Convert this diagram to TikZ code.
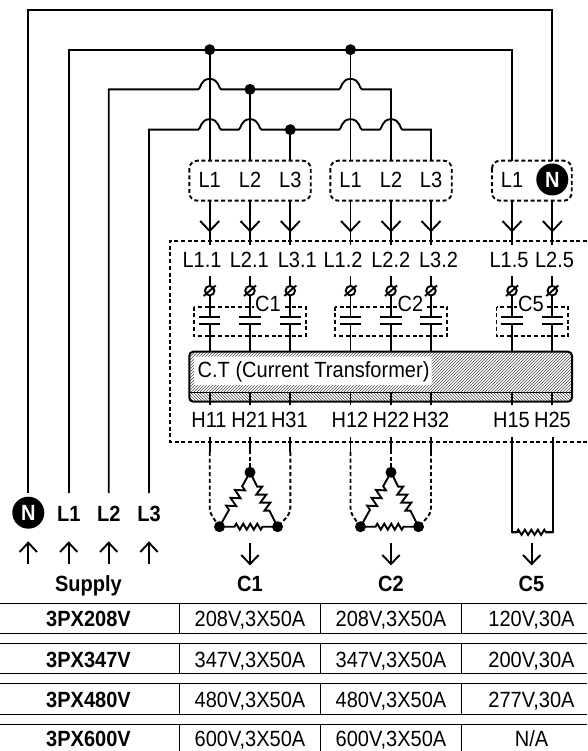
\documentclass[tikz,border=0pt]{standalone}
\usepackage{fontspec}
\setmainfont[FakeStretch=0.91]{Liberation Sans}
\usetikzlibrary{patterns,decorations.pathmorphing,calc}
\tikzset{
  wire/.style={line width=1.9pt,black},
  dashline/.style={line width=1.9pt,dash pattern=on 4pt off 2.7pt,black},
  dot/.style={circle,fill=black,inner sep=0pt,minimum size=11pt},
  ndot/.style={circle,fill=black,text=white,inner sep=0pt,minimum size=32pt,text height=15.7pt,text depth=0pt,font=\fontsize{22}{22}\selectfont\bfseries},
  lab/.style={inner sep=0pt,text height=15.7pt,text depth=0pt,font=\fontsize{22}{22}\selectfont},
  blab/.style={inner sep=0pt,text height=15.7pt,text depth=0pt,font=\fontsize{22}{22}\selectfont\bfseries},
  term/.style={circle,draw=black,line width=1.9pt,fill=white,inner sep=0pt,minimum size=9.5pt},
  vee/.style={line width=1.9pt},
  res/.style={line width=1.9pt,decorate},
  sidezig/.style={decoration={zigzag,segment length=9pt,amplitude=4.5pt,pre=lineto,pre length=16pt,post=lineto,post length=16pt}},
  flatzig/.style={decoration={zigzag,segment length=7pt,amplitude=3pt,pre=lineto,pre length=15pt,post=lineto,post length=15pt}},
  smallzig/.style={decoration={zigzag,segment length=6.5pt,amplitude=2.6pt,pre=lineto,pre length=5pt,post=lineto,post length=5pt}},
  tline/.style={line width=1.1pt},
}
\newcommand{\vdown}[2]{\draw[vee] (#1-9.5,#2-10) -- (#1,#2) -- (#1+9.5,#2-10);}
\begin{document}
\begin{tikzpicture}[x=1pt,y=-1pt]
\useasboundingbox (0,0) rectangle (587,751);
\def\hop#1#2{-- (#1-11.5,#2) .. controls (#1-9,#2) and (#1-9.5,#2-10.5) .. (#1,#2-10.5) .. controls (#1+9.5,#2-10.5) and (#1+9,#2) .. (#1+11.5,#2)}
% main wires
\draw[wire] (28.3,493) -- (28.3,9.7) -- (552.3,9.7) -- (552.3,161);
\draw[wire] (68.7,493) -- (68.7,49.7) -- (512,49.7) -- (512,161);
\draw[wire] (108.7,493) -- (108.7,89.4) \hop{209.7}{89.4} \hop{350.5}{89.4} -- (391,89.4) -- (391,161);
\draw[wire] (149,493) -- (149,129.7) \hop{209.7}{129.7} \hop{250}{129.7} -- (290.3,129.7) \hop{350.5}{129.7} \hop{391}{129.7} -- (431,129.7) -- (431,161);
\draw[wire] (209.7,49.7) -- (209.7,161);
\draw[wire] (250,89.4) -- (250,161);
\draw[wire] (290.3,129.7) -- (290.3,161);
\draw[wire] (350.5,49.7) -- (350.5,161);
% junctions
\node[dot] (j1) at (209.7,49.7) {};
\node[dot] (j2) at (250,89.4) {};
\node[dot] (j3) at (290.3,129.7) {};
\node[dot] (j4) at (350.5,49.7) {};
% dashed input groups
\draw[dashline,rounded corners=8pt] (189.3,160.7) rectangle (310.7,200.7);
\draw[dashline,rounded corners=8pt] (330.3,160.7) rectangle (451.7,200.7);
\draw[dashline,rounded corners=8pt] (492,160.7) rectangle (571.7,200.7);
\foreach \x/\t in {209.7/L1,250/L2,290.3/L3,350.5/L1,391/L2,431/L3,512/L1}{\node[lab] at (\x,179.5) {\t};}
\node[ndot] (n1) at (552.3,179.5) {N};
% links down
\foreach \x in {209.7,250,290.3,350.5,391,431,512,552.3}{
  \draw[wire] (\x,200.7) -- (\x,245);
  \vdown{\x}{231}
}
% outer dashed box
\draw[dashline] (587,240.7) -- (170,240.7) -- (170,442.3) -- (587,442.3);
% terminal labels
\foreach \x/\t in {202/L1.1,249.3/L2.1,297.3/L3.1,343/L1.2,390.8/L2.2,438.5/L3.2,509/L1.5,554.5/L2.5}{\node[lab] at (\x,260) {\t};}
% capacitor columns
\foreach \x in {209.7,250,290.3,350.5,391,431,512,552.3}{
  \draw[wire] (\x,276) -- (\x,317.3);
  \draw[wire] (\x-10.7,317.3) -- (\x+10.7,317.3);
  \draw[wire] (\x-10.7,324.3) -- (\x+10.7,324.3);
  \draw[wire] (\x,324.3) -- (\x,352);
  \node[term] at (\x,290.7) {};
  \draw[wire] (\x-6,296) -- (\x+6,285.5);
}
\draw[dashline] (194,306.7) rectangle (305.7,336.3);
\draw[dashline] (335,306.7) rectangle (447,336.3);
\draw[dashline] (496.5,306.7) rectangle (568,336.3);
\node[lab,fill=white,inner xsep=1pt,text height=13pt,yshift=-1.3pt] at (268,304) {C1};
\node[lab,fill=white,inner xsep=1pt,text height=13pt,yshift=-1.3pt] at (410.5,304) {C2};
\node[lab,fill=white,inner xsep=1pt,text height=13pt,yshift=-1.3pt] at (531,304) {C5};
% CT
\begin{scope}
\clip[rounded corners=4pt] (189.3,351.7) rectangle (572,401.7);
\fill[pattern=north east lines,pattern color=black!70] (189.3,351.7) rectangle (572,392.5);
\fill[pattern=north west lines,pattern color=black!70] (189.3,392.5) rectangle (572,401.7);
\end{scope}
\fill[white,rounded corners=2pt] (194,356.5) rectangle (431.5,385);
\draw[wire] (189.3,392.5) -- (572,392.5);
\draw[line width=2pt,rounded corners=4pt] (189.3,351.7) rectangle (572,401.7);
\node[lab,anchor=west] (ct) at (197.5,370) {C.T (Current Transformer)};
\foreach \x in {209.7,250,290.3,350.5,391,431,512,552.3}{\draw[wire] (\x,392.5) -- (\x,405);}
\foreach \x/\t in {209/H11,249.7/H21,289.4/H31,350/H12,391/H22,431/H32,511.5/H15,552.5/H25}{\node[lab] at (\x,420) {\t};}
% loads: triangles
\foreach \c/\a/\b in {250/209.7/290.3,391/350.5/431}{
  \coordinate (T) at (\c,472.3);
  \coordinate (L) at (\c-30.5,526.7);
  \coordinate (R) at (\c+27.5,526.7);
  \draw[res,sidezig] (T) -- (L);
  \draw[res,sidezig] (T) -- (R);
  \draw[res,flatzig] (L) -- (R);
  \node[dot] at (T) {};
  \node[dot] at (L) {};
  \node[dot] at (R) {};
  \draw[wire] (\c,437) -- (\c,450);
  \draw[dashline] (\c,450) -- (T);
  \draw[wire] (\a,437) -- (\a,452);
  \draw[wire] (\b,437) -- (\b,452);
  \draw[dashline] (\a,452) -- (\a,508) .. controls (\a,514) and (\a+3,517) .. (L);
  \draw[dashline] (\b,452) -- (\b,508) .. controls (\b,514) and (\b-3,517) .. (R);
  \draw[wire] (\c,542.7) -- (\c,564);
  \draw[vee] (\c-8.7,555) -- (\c,564) -- (\c+8.7,555);
}
% C5
\draw[wire] (511.7,437) -- (511.7,532.3);
\draw[wire] (552.7,437) -- (552.7,532.3);
\draw[res,smallzig] (511.7,532.3) -- (552.7,532.3);
\draw[wire] (510.8,532.3) -- (520,532.3) (545,532.3) -- (553.6,532.3);
\draw[wire] (531.7,542.7) -- (531.7,564);
\draw[vee] (523,555) -- (531.7,564) -- (540.4,555);
% supply
\node[ndot] (n2) at (28.3,512.7) {N};
\node[blab] (s1) at (68.7,513.3) {L1};
\node[blab] (s2) at (108.7,513.3) {L2};
\node[blab] (s3) at (149,513.3) {L3};
\foreach \x in {28.3,68.7,108.7,149}{
  \draw[wire] (\x,564) -- (\x,542.7);
  \draw[vee] (\x-8.7,552) -- (\x,542.7) -- (\x+8.7,552);
}
\node[blab] (sup) at (88.5,583.5) {Supply};
\node[blab] (c1) at (250,583.5) {C1};
\node[blab] (c2) at (391,583.5) {C2};
\node[blab] (c5) at (531.5,583.5) {C5};
% table
\foreach \yt/\yb/\a/\b/\c/\d in {
  603.3/633.7/3PX208V/{208V,3X50A}/{208V,3X50A}/{120V,30A},
  643.7/673.7/3PX347V/{347V,3X50A}/{347V,3X50A}/{200V,30A},
  683.7/714.3/3PX480V/{480V,3X50A}/{480V,3X50A}/{277V,30A},
  724.3/751/3PX600V/{600V,3X50A}/{600V,3X50A}/{N/A}}{
  \draw[tline] (0,\yt) -- (587,\yt);
  \ifdim\yb pt<750pt \draw[tline] (0,\yb) -- (587,\yb);\fi
  \draw[tline] (179.7,\yt) -- (179.7,\yb);
  \draw[tline] (320.5,\yt) -- (320.5,\yb);
  \draw[tline] (461.3,\yt) -- (461.3,\yb);
  \node[blab] at (88.5,\yt/2+\yb/2+0.5) {\a};
  \node[lab] at (250,\yt/2+\yb/2+0.5) {\b};
  \node[lab] at (391,\yt/2+\yb/2+0.5) {\c};
  \node[lab] at (531.5,\yt/2+\yb/2+0.5) {\d};
}
\end{tikzpicture}
\end{document}
